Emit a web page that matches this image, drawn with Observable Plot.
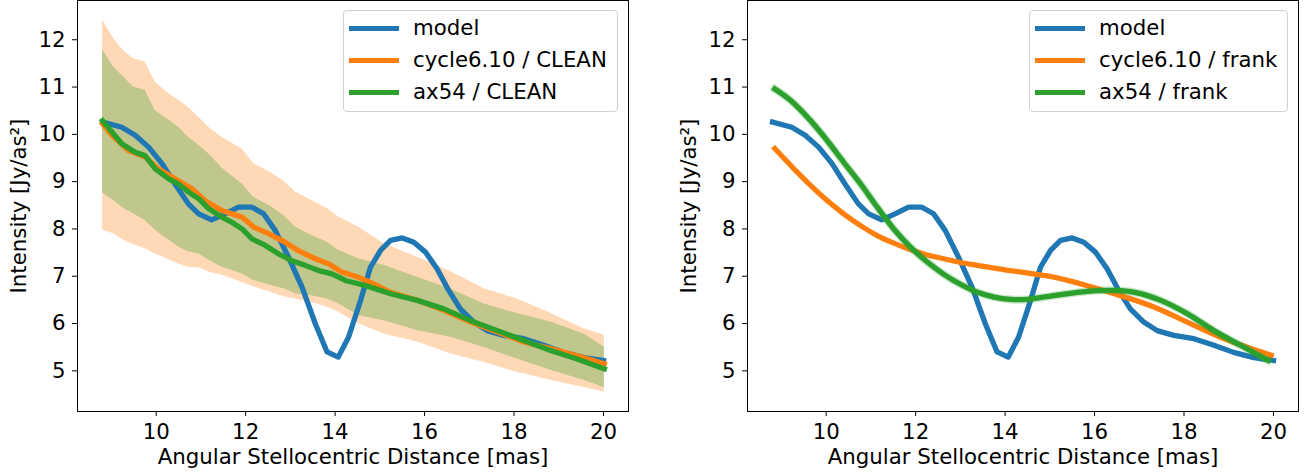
<!DOCTYPE html>
<html><head><meta charset="utf-8">
<script src="https://cdn.jsdelivr.net/npm/d3@7"></script>
<script src="https://cdn.jsdelivr.net/npm/@observablehq/plot@0.6"></script>
<style>
body{margin:0;background:#fff;font-family:"DejaVu Sans",sans-serif;}
#fig{position:relative;width:1313px;height:473px;overflow:hidden;background:#fff;}
#fig svg{position:absolute;top:0;}
.legend{position:absolute;top:10px;box-sizing:border-box;height:102px;border:1px solid #d0d0d0;border-radius:4px;background:rgba(255,255,255,0.8);padding:1px 10px 0 5px;font-size:21.3px;line-height:1;color:#000;font-family:"DejaVu Sans",sans-serif;}
.row{display:flex;align-items:center;height:32px;white-space:nowrap;}
.sw{width:50px;height:5px;margin-right:14px;flex:none;}
</style></head><body><div id="fig"></div><script>
// ---- axis ticks & labels ----
const xTicks = [10, 12, 14, 16, 18, 20];
const yTicks = [5, 6, 7, 8, 9, 10, 11, 12];
const xLabel = "Angular Stellocentric Distance [mas]";
const yLabel = "Intensity [Jy/as²]";
const leftLegend = ["model", "cycle6.10 / CLEAN", "ax54 / CLEAN"];
const rightLegend = ["model", "cycle6.10 / frank", "ax54 / frank"];

// ---- model (same in both panels) ----
const modelX = [8.8, 9.23, 9.53, 9.83, 10.13, 10.42, 10.72, 10.95, 11.24, 11.54, 11.84, 12.14, 12.4, 12.66, 12.96, 13.26, 13.56, 13.82, 14.07, 14.3, 14.57, 14.79, 15.02, 15.24, 15.5, 15.76, 16.02, 16.28, 16.54, 16.8, 17.1, 17.4, 17.77, 18.22, 18.67, 19.11, 19.56, 20.0];
const modelY = [10.26, 10.15, 9.98, 9.73, 9.38, 8.95, 8.53, 8.32, 8.19, 8.32, 8.46, 8.46, 8.32, 7.97, 7.40, 6.77, 5.99, 5.40, 5.29, 5.71, 6.49, 7.19, 7.55, 7.76, 7.81, 7.72, 7.51, 7.16, 6.70, 6.31, 6.03, 5.85, 5.75, 5.68, 5.54, 5.39, 5.28, 5.22];

// ---- CLEAN uncertainty bands (left panel) ----
const bandX = [8.8, 9.05, 9.27, 9.49, 9.75, 9.98, 10.24, 10.5, 10.72, 10.95, 11.21, 11.47, 11.92, 12.18, 12.59, 12.88, 13.11, 13.48, 13.82, 14.08, 14.52, 15.09, 15.84, 16.58, 17.32, 18.07, 18.82, 19.56, 20.02];
const cycleHi = [12.42, 12.02, 11.77, 11.60, 11.53, 11.10, 10.89, 10.72, 10.57, 10.36, 10.12, 9.94, 9.69, 9.38, 9.17, 8.99, 8.78, 8.60, 8.43, 8.25, 8.04, 7.69, 7.40, 7.10, 6.74, 6.52, 6.22, 5.89, 5.75];
const cycleLo = [7.97, 7.90, 7.76, 7.67, 7.58, 7.47, 7.37, 7.26, 7.19, 7.18, 7.08, 7.02, 6.87, 6.78, 6.65, 6.56, 6.52, 6.45, 6.35, 6.24, 6.00, 5.78, 5.61, 5.36, 5.18, 4.97, 4.80, 4.65, 4.55];
const axHi = [11.79, 11.42, 11.21, 11.00, 10.93, 10.50, 10.33, 10.15, 9.94, 9.77, 9.56, 9.29, 8.95, 8.67, 8.46, 8.26, 8.04, 7.86, 7.72, 7.55, 7.37, 7.23, 6.98, 6.73, 6.42, 6.21, 6.03, 5.78, 5.50];
const axLo = [8.76, 8.60, 8.43, 8.32, 8.18, 7.97, 7.79, 7.62, 7.52, 7.47, 7.32, 7.19, 7.05, 6.91, 6.80, 6.73, 6.63, 6.59, 6.52, 6.42, 6.17, 6.06, 5.85, 5.71, 5.50, 5.25, 5.01, 4.80, 4.65];

// ---- CLEAN profiles (left panel) ----
const cycleCleanX = [8.8, 9.01, 9.38, 9.75, 10.05, 10.42, 10.8, 11.09, 11.47, 11.92, 12.18, 12.51, 12.88, 13.18, 13.56, 13.86, 14.15, 14.52, 14.79, 15.24, 15.84, 16.43, 17.03, 17.63, 18.22, 18.82, 19.41, 20.02];
const cycleCleanY = [10.22, 9.98, 9.66, 9.52, 9.27, 9.06, 8.85, 8.60, 8.39, 8.25, 8.04, 7.90, 7.72, 7.54, 7.37, 7.26, 7.09, 6.98, 6.87, 6.66, 6.49, 6.28, 6.03, 5.82, 5.61, 5.47, 5.32, 5.15];
const axCleanX = [8.8, 9.01, 9.23, 9.53, 9.75, 9.98, 10.28, 10.5, 10.72, 10.95, 11.17, 11.47, 11.69, 11.92, 12.14, 12.44, 12.74, 13.03, 13.33, 13.63, 13.93, 14.23, 14.52, 14.79, 15.24, 15.84, 16.43, 17.03, 17.63, 18.22, 18.82, 19.41, 20.02];
const axCleanY = [10.29, 10.05, 9.80, 9.62, 9.55, 9.27, 9.06, 8.95, 8.78, 8.64, 8.43, 8.25, 8.14, 8.00, 7.79, 7.65, 7.47, 7.33, 7.23, 7.12, 7.05, 6.91, 6.84, 6.77, 6.63, 6.49, 6.31, 6.06, 5.85, 5.64, 5.43, 5.25, 5.04];

// ---- frank profiles (right panel) ----
const cycleFrankX = [8.85, 9.28, 9.65, 10.02, 10.39, 10.77, 11.14, 11.51, 11.89, 12.26, 12.63, 13.0, 13.38, 13.75, 14.12, 14.49, 15.09, 15.84, 16.58, 17.33, 18.07, 18.82, 19.56, 19.95];
const cycleFrankY = [9.70, 9.27, 8.92, 8.60, 8.32, 8.07, 7.86, 7.70, 7.56, 7.45, 7.37, 7.29, 7.23, 7.17, 7.12, 7.07, 6.98, 6.80, 6.59, 6.35, 6.03, 5.71, 5.45, 5.33];
const axFrankX = [8.85, 9.2, 9.65, 10.02, 10.39, 10.77, 11.14, 11.51, 11.89, 12.26, 12.63, 13.0, 13.38, 13.75, 14.12, 14.49, 15.09, 15.84, 16.43, 16.95, 17.48, 18.07, 18.67, 19.26, 19.88];
const axFrankY = [10.96, 10.72, 10.29, 9.87, 9.41, 8.95, 8.46, 8.00, 7.61, 7.30, 7.04, 6.83, 6.66, 6.56, 6.51, 6.51, 6.59, 6.68, 6.70, 6.65, 6.49, 6.21, 5.85, 5.54, 5.22];

const colors = ["#1f77b4", "#ff7f0e", "#2ca02c"];
const xDomain = [8.24, 20.56];
const yDomain = [4.14, 12.83];

const pts = (xs, ys) => xs.map((x, i) => ({x, y: ys[i]}));
const bands = bandX.map((x, i) => ({x, cHi: cycleHi[i], cLo: cycleLo[i], aHi: axHi[i], aLo: axLo[i]}));
const model = pts(modelX, modelY);

const lineOpts = (c, curve = "linear") => ({x: "x", y: "y", stroke: c, strokeWidth: 5.3, strokeLinejoin: "round", strokeLinecap: "square", curve});

function panel({width, marginLeft, marginRight, marks}) {
  return Plot.plot({
    width, height: 473, marginLeft, marginRight, marginTop: 0, marginBottom: 62,
    x: {domain: xDomain}, y: {domain: yDomain},
    style: {fontFamily: "DejaVu Sans", fontSize: "21.3px", color: "black", background: "transparent", overflow: "visible"},
    marks: [
      ...marks,
      Plot.frame({stroke: "black", strokeWidth: 1}),
      Plot.axisX({ticks: xTicks, tickSize: 5, tickPadding: 7, label: null, fontSize: 21.3, tickFormat: d => String(d)}),
      Plot.axisY({ticks: yTicks, tickSize: 5, tickPadding: 7, label: null, fontSize: 21.3, tickFormat: d => String(d)}),
      Plot.text([yLabel], {text: d => d, frameAnchor: "left", rotate: -90, dx: -51.5, textAnchor: "middle", lineAnchor: "bottom", fontSize: 21.3, fill: "black"}),
      Plot.text([xLabel], {text: d => d, frameAnchor: "bottom", dy: 52.5, textAnchor: "middle", lineAnchor: "bottom", fontSize: 21.3, fill: "black"})
    ]
  });
}

const left = panel({
  width: 656, marginLeft: 77, marginRight: 28,
  marks: [
    Plot.areaY(bands, {x: "x", y1: "cLo", y2: "cHi", fill: colors[1], fillOpacity: 0.3, curve: "linear"}),
    Plot.areaY(bands, {x: "x", y1: "aLo", y2: "aHi", fill: colors[2], fillOpacity: 0.3, curve: "linear"}),
    Plot.line(model, lineOpts(colors[0])),
    Plot.line(pts(cycleCleanX, cycleCleanY), lineOpts(colors[1])),
    Plot.line(pts(axCleanX, axCleanY), lineOpts(colors[2]))
  ]
});
const right = panel({
  width: 657, marginLeft: 91, marginRight: 15,
  marks: [
    Plot.line(model, lineOpts(colors[0])),
    Plot.line(pts(cycleFrankX, cycleFrankY), lineOpts(colors[1], "catmull-rom")),
    Plot.line(pts(axFrankX, axFrankY), {...lineOpts("#2ca02c", "catmull-rom"), strokeWidth: 8, strokeOpacity: 0.25}),
    Plot.line(pts(axFrankX, axFrankY), lineOpts(colors[2], "catmull-rom"))
  ]
});

const fig = document.getElementById("fig");
left.style.left = "0px";
right.style.left = "656px";
fig.appendChild(left);
fig.appendChild(right);

function legend(labels, leftPx) {
  const div = document.createElement("div");
  div.className = "legend";
  div.style.left = leftPx + "px";
  labels.forEach((t, i) => {
    const row = document.createElement("div");
    row.className = "row";
    const sw = document.createElement("span");
    sw.className = "sw";
    sw.style.background = colors[i];
    const tx = document.createElement("span");
    tx.textContent = t;
    row.appendChild(sw);
    row.appendChild(tx);
    div.appendChild(row);
  });
  fig.appendChild(div);
}
legend(leftLegend, 343);
legend(rightLegend, 1029);
</script></body></html>
